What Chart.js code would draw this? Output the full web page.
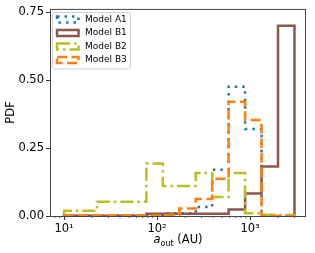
<!DOCTYPE html>
<html>
<head>
<meta charset="utf-8">
<script src="https://cdn.jsdelivr.net/npm/chart.js@4.4.0/dist/chart.umd.min.js"></script>
<style>
  html, body { margin: 0; padding: 0; background: #fff; }
</style>
</head>
<body>
<canvas id="chart" width="315" height="253"></canvas>
<script>
// bin edges in AU (same bins for every model)
const binEdges = [10, 15.03, 22.59, 33.95, 51.02, 76.68, 115.2, 173.2, 260.3, 391.2, 587.9, 883.6, 1328, 1996, 3000];

const modelNames = ['Model A1', 'Model B1', 'Model B2', 'Model B3'];
const pdfA1 = [0.002, 0.002, 0.002, 0.002, 0.002, 0.002, 0.01, 0.01, 0.033, 0.17, 0.476, 0.32, 0, 0];
const pdfB1 = [0.001, 0.001, 0.001, 0.001, 0.001, 0.008, 0.008, 0.008, 0.008, 0.008, 0.024, 0.083, 0.182, 0.70];
const pdfB2 = [0.019, 0.019, 0.052, 0.052, 0.052, 0.193, 0.11, 0.11, 0.158, 0.07, 0.158, 0.01, 0.005, 0.004];
const pdfB3 = [0.002, 0.002, 0.002, 0.002, 0.002, 0.002, 0.004, 0.028, 0.063, 0.137, 0.42, 0.353, 0, 0];

const xTicks = [10, 100, 1000];
const xTickLabels = ['10\u00B9', '10\u00B2', '10\u00B3'];
const xMinorTicks = [8, 9, 20, 30, 40, 50, 60, 70, 80, 90, 200, 300, 400, 500, 600, 700, 800, 900, 2000, 3000];
const yTicks = [0, 0.25, 0.5, 0.75];

const FONT = 'DejaVu Sans';

// outline of a step histogram: up at first edge, across each bin, down at the last edge
// (each value is attached to the right edge of its bin, drawn with stepped 'before')
function stepPoints(vals) {
    const pts = [{ x: binEdges[0], y: 0 }, { x: binEdges[0], y: vals[0] }];
    vals.forEach((v, i) => pts.push({ x: binEdges[i + 1], y: v }));
    pts.push({ x: binEdges[binEdges.length - 1], y: 0 });
    return pts;
}

function histDataset(label, vals, color, dash, order) {
    return {
        label: label,
        data: stepPoints(vals),
        borderColor: color,
        backgroundColor: 'rgba(0,0,0,0)',
        borderWidth: 2.5,
        borderDash: dash,
        borderCapStyle: 'butt',
        stepped: 'after',
        pointRadius: 0,
        fill: false,
        order: order
    };
}

const extras = {
    id: 'extras',
    afterDraw(chart) {
        const ctx = chart.ctx;
        const a = chart.chartArea;
        const xs = chart.scales.x;
        ctx.save();

        // minor ticks on the log axis
        ctx.strokeStyle = '#000';
        ctx.lineWidth = 0.6;
        xMinorTicks.forEach(v => {
            const px = xs.getPixelForValue(v);
            if (px < a.left || px > a.right) return;
            ctx.beginPath();
            ctx.moveTo(px, a.bottom);
            ctx.lineTo(px, a.bottom + 2.2);
            ctx.stroke();
        });

        // frame
        ctx.strokeStyle = '#444';
        ctx.lineWidth = 1;
        ctx.strokeRect(a.left + 0.5, a.top + 0.5, a.right - a.left - 1, a.bottom - a.top);

        // axis titles
        ctx.fillStyle = '#000';
        ctx.font = '11.5px "' + FONT + '"';
        ctx.textAlign = 'center';
        ctx.textBaseline = 'middle';
        ctx.save();
        ctx.translate(11, (a.top + a.bottom) / 2);
        ctx.rotate(-Math.PI / 2);
        ctx.fillText('PDF', 0, 0);
        ctx.restore();

        const base = 243;
        const fMain = '11.5px "' + FONT + '"';
        const fItal = 'oblique 11.5px "' + FONT + '"';
        const fSub = '8px "' + FONT + '"';
        ctx.textAlign = 'left';
        ctx.textBaseline = 'alphabetic';
        ctx.font = fItal; const wA = ctx.measureText('a').width;
        ctx.font = fSub; const wS = ctx.measureText('out').width;
        ctx.font = fMain; const wR = ctx.measureText(' (AU)').width;
        let tx = (a.left + a.right) / 2 - (wA + wS + wR) / 2;
        ctx.font = fItal; ctx.fillText('a', tx, base); tx += wA;
        ctx.font = fSub; ctx.fillText('out', tx, base + 2.5); tx += wS;
        ctx.font = fMain; ctx.fillText(' (AU)', tx, base);

        // legend
        const lx = 52, ly = 12, lw = 78, lh = 56.5;
        ctx.beginPath();
        ctx.roundRect(lx + 0.5, ly + 0.5, lw, lh, 2);
        ctx.fillStyle = 'rgba(255,255,255,0.8)';
        ctx.fill();
        ctx.strokeStyle = '#d0d0d0';
        ctx.lineWidth = 1;
        ctx.stroke();

        ctx.font = '9px "' + FONT + '"';
        ctx.textBaseline = 'middle';
        chart.data.datasets.forEach((ds, i) => {
            const cy = 19.5 + i * 13.5;
            ctx.strokeStyle = ds.borderColor;
            ctx.lineWidth = ds.borderWidth;
            ctx.lineCap = 'butt';
            ctx.setLineDash(ds.borderDash);
            ctx.strokeRect(57, cy - 3, 21.5, 6);
            ctx.setLineDash([]);
            ctx.fillStyle = '#000';
            ctx.fillText(ds.label, 85, cy);
        });
        ctx.restore();
    }
};

new Chart(document.getElementById('chart'), {
    type: 'line',
    data: {
        datasets: [
            histDataset(modelNames[0], pdfA1, '#1f77b4', [2.5, 5], 3),
            histDataset(modelNames[1], pdfB1, '#8c564b', [], 2),
            histDataset(modelNames[2], pdfB2, '#bcbd22', [13, 4, 2.5, 4], 1),
            histDataset(modelNames[3], pdfB3, '#ff7f0e', [10, 4.5], 0)
        ]
    },
    options: {
        responsive: false,
        devicePixelRatio: 1,
        animation: false,
        layout: { padding: { left: 0, right: 9, top: 7, bottom: 0 } },
        plugins: {
            legend: { display: false },
            tooltip: { enabled: false }
        },
        scales: {
            x: {
                type: 'logarithmic',
                min: 7.06,
                max: 3990,
                afterBuildTicks: s => { s.ticks = xTicks.map(v => ({ value: v })); },
                afterFit: s => { s.height = 37; },
                ticks: {
                    callback: (v, i) => xTickLabels[i],
                    autoSkip: false,
                    maxRotation: 0,
                    padding: 2,
                    color: '#000',
                    font: { family: FONT, size: 11.5 }
                },
                grid: { drawOnChartArea: false, drawTicks: true, tickLength: 4, color: '#000', lineWidth: 0.8 },
                border: { display: false }
            },
            y: {
                type: 'linear',
                min: 0,
                max: 0.762,
                afterBuildTicks: s => { s.ticks = yTicks.map(v => ({ value: v })); },
                afterFit: s => { s.width = 50; },
                ticks: {
                    callback: v => v.toFixed(2),
                    padding: 2,
                    color: '#000',
                    font: { family: FONT, size: 11.5 }
                },
                grid: { drawOnChartArea: false, drawTicks: true, tickLength: 4, color: '#000', lineWidth: 0.8 },
                border: { display: false }
            }
        }
    },
    plugins: [extras]
});
</script>
</body>
</html>
